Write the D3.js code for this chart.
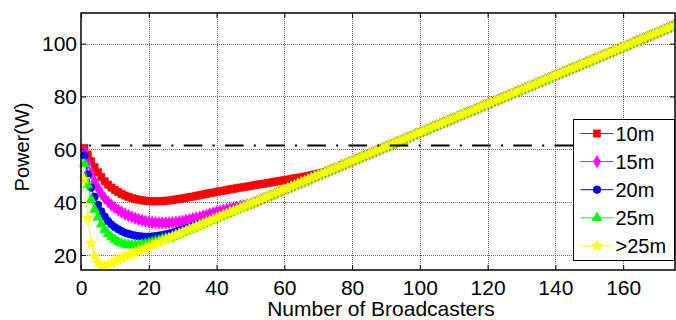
<!DOCTYPE html>
<html>
<head>
<meta charset="utf-8">
<script src="https://cdn.jsdelivr.net/npm/d3@7"></script>
<style>
  body { margin: 0; background: #fff; }
  text { font-family: "Liberation Sans", Arial, sans-serif; fill: #000; }
</style>
</head>
<body>
<div id="chart"></div>
<script>

// Tick labels
var xTicks = [0, 20, 40, 60, 80, 100, 120, 140, 160];
var yTicks = [20, 40, 60, 80, 100];

// Horizontal reference level (dash-dot)
var refLevel = 61.4;

// Shared linear part all curves run into, from 10 broadcasters up to 175
var commonLine = [
  17.7, 18.2, 18.8, 19.3, 19.9, 20.4, 20.9, 21.5, 22.0, 22.6,
  23.1, 23.6, 24.2, 24.7, 25.3, 25.8, 26.3, 26.9, 27.4, 28.0,
  28.5, 29.0, 29.6, 30.1, 30.7, 31.2, 31.7, 32.3, 32.8, 33.4,
  33.9, 34.4, 35.0, 35.5, 36.1, 36.6, 37.1, 37.7, 38.2, 38.8,
  39.3, 39.8, 40.4, 40.9, 41.5, 42.0, 42.5, 43.1, 43.6, 44.2,
  44.7, 45.2, 45.8, 46.3, 46.9, 47.4, 47.9, 48.5, 49.0, 49.6,
  50.1, 50.6, 51.2, 51.7, 52.3, 52.8, 53.3, 53.9, 54.4, 55.0,
  55.5, 56.0, 56.6, 57.1, 57.7, 58.2, 58.7, 59.3, 59.8, 60.4,
  60.9, 61.4, 62.0, 62.5, 63.1, 63.6, 64.1, 64.7, 65.2, 65.8,
  66.3, 66.8, 67.4, 67.9, 68.5, 69.0, 69.5, 70.1, 70.6, 71.2,
  71.7, 72.2, 72.8, 73.3, 73.9, 74.4, 74.9, 75.5, 76.0, 76.6,
  77.1, 77.6, 78.2, 78.7, 79.3, 79.8, 80.3, 80.9, 81.4, 82.0,
  82.5, 83.0, 83.6, 84.1, 84.7, 85.2, 85.7, 86.3, 86.8, 87.4,
  87.9, 88.4, 89.0, 89.5, 90.1, 90.6, 91.1, 91.7, 92.2, 92.8,
  93.3, 93.8, 94.4, 94.9, 95.5, 96.0, 96.5, 97.1, 97.6, 98.2,
  98.7, 99.2, 99.8, 100.3, 100.9, 101.4, 101.9, 102.5, 103.0, 103.6,
  104.1, 104.6, 105.2, 105.7, 106.3, 106.8
];

// Early part of each curve (from 1 broadcaster), before it joins commonLine
var head10m = [
  60.5, 58.0, 55.5, 53.3, 51.3, 49.5, 47.9, 46.6, 45.5, 44.6,
  43.8, 43.1, 42.5, 42.0, 41.6, 41.2, 40.9, 40.7, 40.5, 40.4,
  40.3, 40.3, 40.3, 40.4, 40.5, 40.6, 40.8, 41.0, 41.2, 41.4,
  41.6, 41.9, 42.1, 42.4, 42.6, 42.9, 43.1, 43.4, 43.6, 43.9,
  44.1, 44.3, 44.6, 44.8, 45.0, 45.3, 45.5, 45.7, 45.9, 46.1,
  46.4, 46.6, 46.8, 47.0, 47.2, 47.4, 47.7, 47.9, 48.1, 48.3,
  48.5, 48.8, 49.0, 49.2, 49.4, 49.7, 49.9, 50.2, 50.5, 50.8,
  51.1, 51.4, 51.7
];
var head15m = [
  59.3, 54.7, 50.9, 47.8, 45.3, 43.2, 41.5, 40.1, 38.9, 37.9,
  37.0, 36.2, 35.5, 34.9, 34.4, 33.9, 33.5, 33.1, 32.8, 32.5,
  32.3, 32.2, 32.1, 32.1, 32.1, 32.2, 32.3, 32.4, 32.6, 32.8,
  33.1, 33.4, 33.7, 34.0, 34.3, 34.7, 35.1, 35.5, 35.9, 36.3,
  36.6, 36.9, 37.2, 37.5, 37.8, 38.1, 38.4, 38.7, 39.0
];
var head20m = [
  57.6, 50.5, 45.5, 42.0, 39.0, 36.5, 34.5, 32.8, 31.5, 30.5,
  29.7, 29.0, 28.4, 28.0, 27.6, 27.3, 27.1, 27.0, 26.9, 26.9,
  27.0, 27.1, 27.3, 27.5, 27.8, 28.1, 28.4, 28.8, 29.2, 29.6,
  30.0, 30.4, 30.8, 31.3, 31.7
];
var head25m = [
  54.5, 46.5, 41.0, 37.2, 34.2, 31.6, 29.6, 28.0, 26.8, 25.8,
  25.0, 24.4, 24.0, 23.8, 23.7, 23.7, 23.8, 24.0, 24.2, 24.5,
  24.9, 25.2, 25.5, 25.9, 26.2
];
var headOver25m = [48.7, 34.0, 24.5, 19.5, 17.0, 16.0, 15.7, 16.2, 16.9];

var seriesNames = ["10m", "15m", "20m", "25m", ">25m"];
var seriesHeads = [head10m, head15m, head20m, head25m, headOver25m];
var seriesColors = ["#ff0000", "#ff00ff", "#0000ff", "#00ff00", "#ffff00"];
var seriesSymbols = [d3.symbolSquare, d3.symbolDiamond, d3.symbolCircle, d3.symbolTriangle, d3.symbolStar];
var symbolSizes = [52, 44, 46, 44, 40];

// Setting the svg area
var svgWidth = 676;
var svgHeight = 320;

var chartMargin = {
  top: 13,
  right: 1,
  bottom: 50,
  left: 81
};

var chartWidth = svgWidth - chartMargin.left - chartMargin.right;
var chartHeight = svgHeight - chartMargin.top - chartMargin.bottom;

var svg = d3.select("#chart")
            .append("svg")
            .attr("width", svgWidth)
            .attr("height", svgHeight);

var chartGroup = svg.append("g")
                    .attr("transform", `translate(${chartMargin.left}, ${chartMargin.top})`);

var xLinearScale = d3.scaleLinear()
                     .domain([0, 175.3])
                     .range([0, chartWidth]);

var yLinearScale = d3.scaleLinear()
                     .domain([14.3, 111.6])
                     .range([chartHeight, 0]);

// Build the full curves: own head then the common line
var seriesData = seriesHeads.map(function(head) {
  var values = head.concat(commonLine.slice(head.length - 9));
  return values.map(function(v, i) { return { x: i + 1, y: v }; });
});

// Grid (dotted grey)
chartGroup.append("g")
  .selectAll("line")
  .data(xTicks.slice(1))
  .enter()
  .append("line")
  .attr("x1", d => Math.round(xLinearScale(d)) + 0.5)
  .attr("x2", d => Math.round(xLinearScale(d)) + 0.5)
  .attr("y1", 0)
  .attr("y2", chartHeight)
  .attr("stroke", "#6a6a6a")
  .attr("stroke-dasharray", "1,1");

chartGroup.append("g")
  .selectAll("line")
  .data(yTicks)
  .enter()
  .append("line")
  .attr("x1", 0)
  .attr("x2", chartWidth)
  .attr("y1", d => Math.round(yLinearScale(d)) + 0.5)
  .attr("y2", d => Math.round(yLinearScale(d)) + 0.5)
  .attr("stroke", "#6a6a6a")
  .attr("stroke-dasharray", "1,1");

// Curves with markers
var line = d3.line()
             .x(d => xLinearScale(d.x))
             .y(d => yLinearScale(d.y));

seriesData.forEach(function(data, k) {
  var g = chartGroup.append("g");
  g.append("path")
   .datum(data)
   .attr("d", line)
   .attr("fill", "none")
   .attr("stroke", seriesColors[k])
   .attr("stroke-width", 1);
  g.selectAll("path.marker")
   .data(data)
   .enter()
   .append("path")
   .attr("class", "marker")
   .attr("d", d3.symbol().type(seriesSymbols[k]).size(symbolSizes[k]))
   .attr("transform", d => `translate(${xLinearScale(d.x)}, ${yLinearScale(d.y)})`)
   .attr("fill", seriesColors[k])
   .attr("stroke", seriesColors[k])
   .attr("stroke-width", 0.6);
});

// Dash-dot reference line
chartGroup.append("line")
  .attr("x1", xLinearScale(0))
  .attr("x2", xLinearScale(175))
  .attr("y1", yLinearScale(refLevel))
  .attr("y2", yLinearScale(refLevel))
  .attr("stroke", "#000")
  .attr("stroke-width", 2)
  .attr("stroke-dasharray", "18.6,10.3,2,10.3")
  .attr("stroke-dashoffset", 20.9);

// Axes: ticks inside on all four sides
var bottomAxis = d3.axisBottom(xLinearScale).tickValues(xTicks).tickSize(-5).tickFormat(d3.format("d"));
var topAxis = d3.axisTop(xLinearScale).tickValues(xTicks).tickSize(-5).tickFormat("");
var leftAxis = d3.axisLeft(yLinearScale).tickValues(yTicks).tickSize(-5).tickFormat(d3.format("d"));
var rightAxis = d3.axisRight(yLinearScale).tickValues(yTicks).tickSize(-5).tickFormat("");

var xAxis = chartGroup.append("g")
  .attr("transform", `translate(0, ${chartHeight})`)
  .call(bottomAxis);
chartGroup.append("g").call(topAxis);
var yAxis = chartGroup.append("g").call(leftAxis);
chartGroup.append("g").attr("transform", `translate(${chartWidth}, 0)`).call(rightAxis);

chartGroup.selectAll(".domain").remove();
chartGroup.selectAll(".tick line").attr("stroke", "#000");

xAxis.selectAll("text")
  .attr("font-size", "21px")
  .attr("dy", null)
  .attr("y", 25);
yAxis.selectAll("text")
  .attr("font-size", "21px")
  .attr("dy", "0.35em")
  .attr("x", -4);

// Frame
chartGroup.append("rect")
  .attr("x", 0)
  .attr("y", 0)
  .attr("width", chartWidth)
  .attr("height", chartHeight)
  .attr("fill", "none")
  .attr("stroke", "#000")
  .attr("stroke-width", 1.5);

// Axis titles
svg.append("text")
  .attr("x", chartMargin.left + chartWidth / 2 + 3)
  .attr("y", 316)
  .attr("text-anchor", "middle")
  .attr("font-size", "21px")
  .text("Number of Broadcasters");

svg.append("text")
  .attr("transform", "translate(29, 147) rotate(-90)")
  .attr("text-anchor", "middle")
  .attr("font-size", "20px")
  .text("Power(W)");

// Legend
var legend = svg.append("g")
  .attr("transform", "translate(573.5, 119.5)");

legend.append("rect")
  .attr("width", 101)
  .attr("height", 141)
  .attr("fill", "#fff")
  .attr("stroke", "#000")
  .attr("stroke-width", 1);

var legendItems = legend.selectAll("g.item")
  .data(seriesNames)
  .enter()
  .append("g")
  .attr("class", "item")
  .attr("transform", (d, i) => `translate(0, ${14 + i * 28.1})`);

legendItems.append("line")
  .attr("x1", 7)
  .attr("x2", 40)
  .attr("stroke", (d, i) => seriesColors[i])
  .attr("stroke-width", 1);

legendItems.append("path")
  .attr("d", (d, i) => d3.symbol().type(seriesSymbols[i]).size(symbolSizes[i])())
  .attr("transform", "translate(23.5, 0)")
  .attr("fill", (d, i) => seriesColors[i])
  .attr("stroke", (d, i) => seriesColors[i])
  .attr("stroke-width", 0.6);

legendItems.append("text")
  .attr("x", 42)
  .attr("dy", "0.36em")
  .attr("font-size", "20px")
  .text(d => d);

</script>
</body>
</html>
